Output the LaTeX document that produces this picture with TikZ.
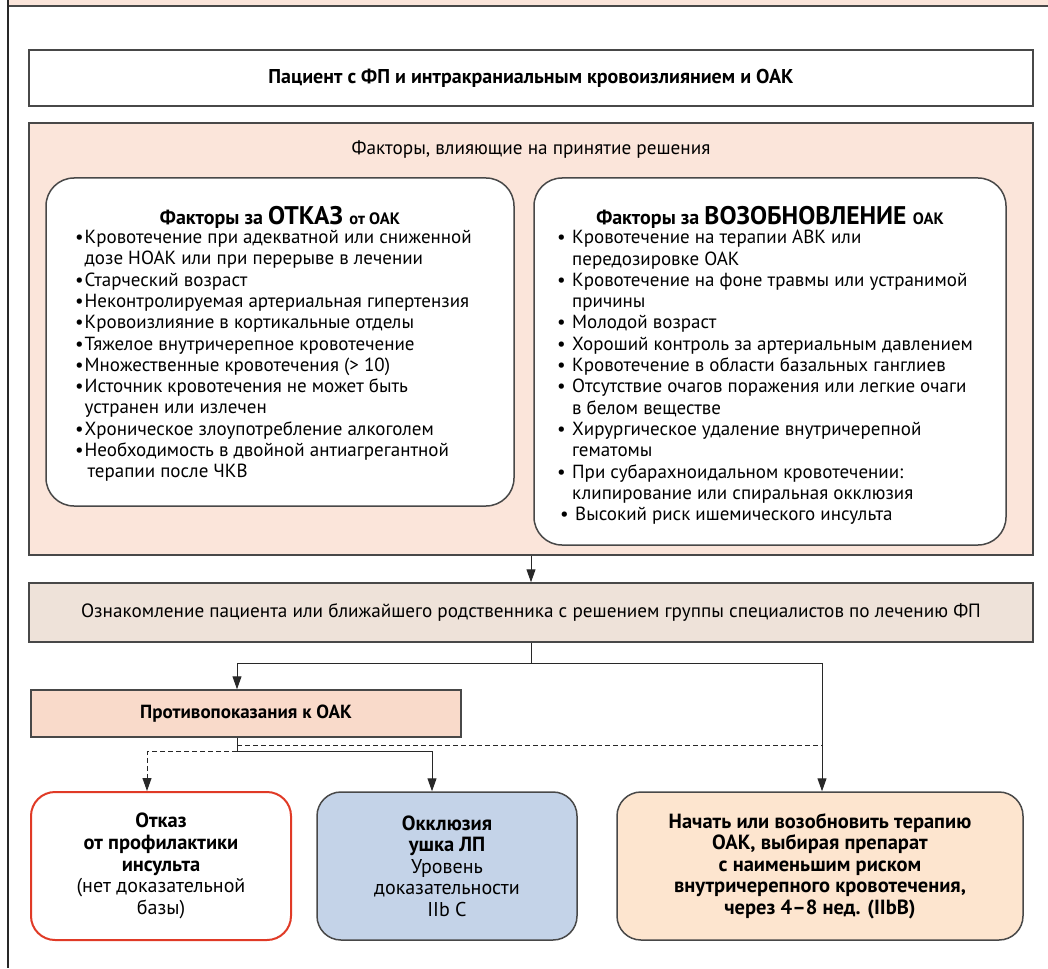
\documentclass[tikz,border=0pt]{standalone}
\usepackage{fontspec}
\setmainfont{PT Sans}
\usetikzlibrary{arrows.meta}
\definecolor{bordergray}{RGB}{72,72,72}
\definecolor{linegray}{RGB}{40,40,40}
\definecolor{pinkbg}{RGB}{251,229,218}
\definecolor{informbg}{RGB}{238,226,217}
\definecolor{contrabg}{RGB}{249,218,202}
\definecolor{bluebg}{RGB}{196,211,232}
\definecolor{orangebg}{RGB}{253,229,207}
\definecolor{redline}{RGB}{224,58,38}
\newcommand{\itmL}[1]{\makebox[9.5pt][l]{•}#1}
\newcommand{\cntL}[1]{\hspace*{9.5pt}#1}
\newcommand{\itmR}[1]{\makebox[15pt][l]{•}#1}
\newcommand{\cntR}[1]{\hspace*{15pt}#1}
\newcommand{\bx}[1]{{\fontsize{20.5}{21.5}\selectfont\bfseries #1}}
\begin{document}
\begin{tikzpicture}[x=1pt,y=-1pt,
  basefont/.style={font=\fontsize{19.2}{21.3}\selectfont},
  lowfont/.style={font=\fontsize{20}{21.6}\selectfont},
  box/.style={draw=bordergray, line width=1.5pt, inner sep=0pt, basefont, align=center},
  rbox/.style={box, rounded corners=28pt},
  sbox/.style={box, rounded corners=24pt, lowfont},
  listtext/.style={inner sep=0pt, anchor=north west, align=left, font=\fontsize{19}{21.3}\selectfont},
  conn/.style={draw=linegray, line width=1pt},
  arr/.style={conn, -{Triangle[length=13pt,width=9pt]}},
  dashln/.style={dash pattern=on 5pt off 3pt}
]
\useasboundingbox (0,0) rectangle (1048,968);
% frame
\fill[pinkbg] (8,0) rectangle (1048,6);
\draw[bordergray, line width=1.5pt] (8,6) -- (1048,6);
\draw[linegray, line width=1.2pt] (8,0) -- (8,968);

% nodes
\node[box, fill=white, minimum width=1004pt, minimum height=56pt] (patient) at (531,78)
  {\fontsize{20}{22}\selectfont\bfseries Пациент с ФП и интракраниальным кровоизлиянием и ОАК};
\node[box, fill=pinkbg, minimum width=1004pt, minimum height=432pt] (factors) at (531,339) {};
\node[basefont] (ftitle) at (531,150) {Факторы, влияющие на принятие решения};

\node[rbox, fill=white, minimum width=468pt, minimum height=328pt] (left) at (280,342) {};
\node[rbox, fill=white, minimum width=472pt, minimum height=367pt] (right) at (770,361.5) {};

\node[anchor=base, inner sep=0pt] (lhead) at (280,225)
  {\bfseries\fontsize{20}{22}\selectfont Факторы за \fontsize{25.5}{26}\selectfont ОТКАЗ\ \fontsize{16.5}{17}\selectfont от ОАК};
\node[anchor=base, inner sep=0pt] (rhead) at (770,225)
  {\bfseries\fontsize{20}{22}\selectfont Факторы за \fontsize{25.5}{26}\selectfont ВОЗОБНОВЛЕНИЕ\ \fontsize{16.5}{17}\selectfont ОАК};

\node[listtext] (llist) at (75,230) {%
\itmL{Кровотечение при адекватной или сниженной}\\
\cntL{дозе НОАК или при перерыве в лечении}\\
\itmL{Старческий возраст}\\
\itmL{Неконтролируемая артериальная гипертензия}\\
\itmL{Кровоизлияние в кортикальные отделы}\\
\itmL{Тяжелое внутричерепное кровотечение}\\
\itmL{Множественные кровотечения (> 10)}\\
\itmL{Источник кровотечения не может быть}\\
\cntL{устранен или излечен}\\
\itmL{Хроническое злоупотребление алкоголем}\\
\itmL{Необходимость в двойной антиагрегантной}\\
\hspace*{3pt}\cntL{терапии после ЧКВ}};

\node[listtext] (rlist) at (557,230) {%
\itmR{Кровотечение на терапии АВК или}\\
\cntR{передозировке ОАК}\\
\itmR{Кровотечение на фоне травмы или устранимой}\\
\cntR{причины}\\
\itmR{Молодой возраст}\\
\itmR{Хороший контроль за артериальным давлением}\\
\itmR{Кровотечение в области базальных ганглиев}\\
\itmR{Отсутствие очагов поражения или легкие очаги}\\
\cntR{в белом веществе}\\
\itmR{Хирургическое удаление внутричерепной}\\
\cntR{гематомы}\\
\itmR{При субарахноидальном кровотечении:}\\
\cntR{клипирование или спиральная окклюзия}\\
\hspace*{3pt}\itmR{Высокий риск ишемического инсульта}};

\node[box, fill=informbg, minimum width=1004pt, minimum height=59pt] (inform) at (531,612.5)
  {Ознакомление пациента или ближайшего родственника с решением группы специалистов по лечению ФП};
\node[box, fill=contrabg, minimum width=430pt, minimum height=47pt] (contra) at (246,713.5)
  {\fontsize{19}{21}\selectfont\bfseries Противопоказания к ОАК};

\node[sbox, draw=redline, line width=2pt, fill=white, minimum width=260pt, minimum height=148pt] (refuse) at (161,866)
  {\bx{Отказ}\\\bx{от профилактики}\\\bx{инсульта}\\(нет доказательной\\базы)};
\node[sbox, fill=bluebg, minimum width=260pt, minimum height=148pt] (occl) at (447,866)
  {\bx{Окклюзия}\\\bx{ушка ЛП}\\Уровень\\доказательности\\IIb C};
\node[sbox, fill=orangebg, minimum width=406pt, minimum height=148pt] (start) at (820,866)
  {\bx{Начать или возобновить терапию}\\\bx{ОАК, выбирая препарат}\\\bx{с наименьшим риском}\\\bx{внутричерепного кровотечения,}\\\bx{через 4–8 нед. (IIbB)}};

% connectors
\coordinate (j1) at (inform.south |- 0,663);
\coordinate (c1) at ([xshift=-9pt]contra.south);
\coordinate (c2) at ([yshift=-14pt]c1);
\coordinate (c3) at ([yshift=-8pt]c1);
\coordinate (s1) at ([xshift=2pt]start.north);
\draw[arr] (factors.south) -- (inform.north);
\draw[conn] (inform.south) -- (j1);
\draw[arr] (j1) -| ([xshift=-9pt]contra.north);
\draw[arr] (j1) -| (s1);
\draw[arr] (c1) -- (c2) -| ([xshift=-15pt]occl.north);
\draw[arr, dashln] (c2) -| ([xshift=-14pt]refuse.north);
\draw[conn, dashln] (c3) -- (c3 -| s1);
\end{tikzpicture}
\end{document}
